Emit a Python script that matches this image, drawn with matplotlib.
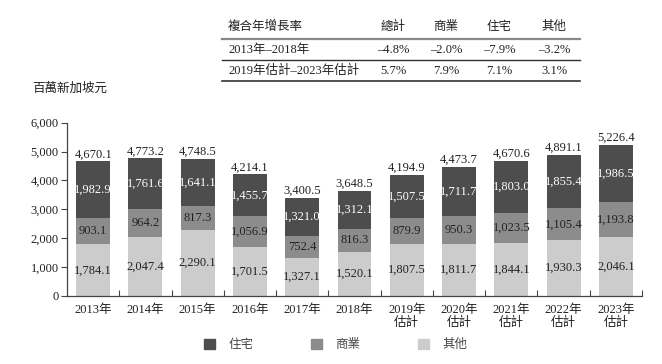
import matplotlib
matplotlib.use("Agg")
import matplotlib.pyplot as plt
from matplotlib.patches import Patch
from matplotlib.lines import Line2D

FONT = ["Liberation Serif", "Noto Sans CJK TC"]
plt.rcParams["font.family"] = FONT

# data (百萬新加坡元)
years = ["2013年", "2014年", "2015年", "2016年", "2017年", "2018年",
         "2019年\n估計", "2020年\n估計", "2021年\n估計", "2022年\n估計", "2023年\n估計"]
other = [1784.1, 2047.4, 2290.1, 1701.5, 1327.1, 1520.1, 1807.5, 1811.7, 1844.1, 1930.3, 2046.1]
commercial = [903.1, 964.2, 817.3, 1056.9, 752.4, 816.3, 879.9, 950.3, 1023.5, 1105.4, 1193.8]
residential = [1982.9, 1761.6, 1641.1, 1455.7, 1321.0, 1312.1, 1507.5, 1711.7, 1803.0, 1855.4, 1986.5]
totals = [4670.1, 4773.2, 4748.5, 4214.1, 3400.5, 3648.5, 4194.9, 4473.7, 4670.6, 4891.1, 5226.4]

# CAGR table
table_header = ["複合年增長率", "總計", "商業", "住宅", "其他"]
table_rows = [
    ["2013年–2018年", "–4.8%", "–2.0%", "–7.9%", "–3.2%"],
    ["2019年估計–2023年估計", "5.7%", "7.9%", "7.1%", "3.1%"],
]

DARK = "#4d4d4d"
MID = "#8c8c8c"
LIGHT = "#cccccc"
TXT = "#222222"

W, H = 662, 364
fig = plt.figure(figsize=(W / 100, H / 100), dpi=100)
fig.patch.set_facecolor("white")
ax = fig.add_axes([67 / W, 1 - 296 / H, (642 - 67) / W, (296 - 122.7) / H])

x = list(range(len(years)))
bw = 0.65
bottom2 = [o + c for o, c in zip(other, commercial)]
ax.bar(x, other, bw, color=LIGHT, zorder=2)
ax.bar(x, commercial, bw, bottom=other, color=MID, zorder=2)
ax.bar(x, residential, bw, bottom=bottom2, color=DARK, zorder=2)

FS = 9

def fmt(v):
    return f"{v:,.1f}"

for i in x:
    ax.text(i, other[i] / 2, fmt(other[i]), ha="center", va="center", fontsize=FS, color=TXT)
    ax.text(i, other[i] + commercial[i] / 2, fmt(commercial[i]), ha="center", va="center", fontsize=FS, color=TXT)
    ax.text(i, bottom2[i] + residential[i] / 2, fmt(residential[i]), ha="center", va="center", fontsize=FS, color="white")
    ax.text(i, totals[i] + 30, fmt(totals[i]), ha="center", va="bottom", fontsize=FS, color=TXT)

ax.set_xlim(-0.5, len(years) - 0.5)
ax.set_ylim(0, 6000)
ax.set_yticks(range(0, 6001, 1000))
ax.set_yticklabels([f"{v:,}" for v in range(0, 6001, 1000)], fontsize=FS, color=TXT)
ax.set_xticks(x)
ax.set_xticklabels(years, fontsize=FS, color=TXT, linespacing=1.0)
ax.set_xticks([i + 0.5 for i in x], minor=True)
ax.tick_params(axis="x", which="major", length=0, pad=6)
ax.tick_params(axis="x", which="minor", direction="in", length=4, width=0.8, color="#444444")
ax.tick_params(axis="y", direction="out", length=4, width=0.8, color="#444444", pad=2)
for s in ["top", "right"]:
    ax.spines[s].set_visible(False)
for s in ["left", "bottom"]:
    ax.spines[s].set_color("#444444")
    ax.spines[s].set_linewidth(0.9)

# y unit label
fig.text(32 / W, 1 - 89 / H, "百萬新加坡元", fontsize=9, color=TXT, ha="left", va="center")

# table
col_x = [228, 393, 446, 499, 554]
row_y = [27, 50, 71]
for j, t in enumerate(table_header):
    fig.text(col_x[j] / W, 1 - row_y[0] / H, t, fontsize=9, color=TXT,
             ha="left" if j == 0 else "center", va="center")
for r, row in enumerate(table_rows):
    for j, t in enumerate(row):
        fig.text(col_x[j] / W, 1 - row_y[r + 1] / H, t, fontsize=9, color=TXT,
                 ha="left" if j == 0 else "center", va="center")
for yy, c, lw in [(39, "#888888", 1.6), (60, "#333333", 1.0), (81, "#333333", 1.2)]:
    fig.add_artist(Line2D([222 / W, 580 / W], [1 - yy / H, 1 - yy / H], color=c, lw=lw))

# legend
handles = [Patch(color=DARK, label="住宅"), Patch(color=MID, label="商業"), Patch(color=LIGHT, label="其他")]
fig.legend(handles=handles, loc="center", bbox_to_anchor=(336 / W, 1 - 345 / H), ncol=3,
           frameon=False, fontsize=9, handlelength=0.85, handleheight=0.85,
           handletextpad=1.1, columnspacing=4.6, labelcolor="#444444")

fig.savefig("out.png", dpi=100, facecolor="white")
